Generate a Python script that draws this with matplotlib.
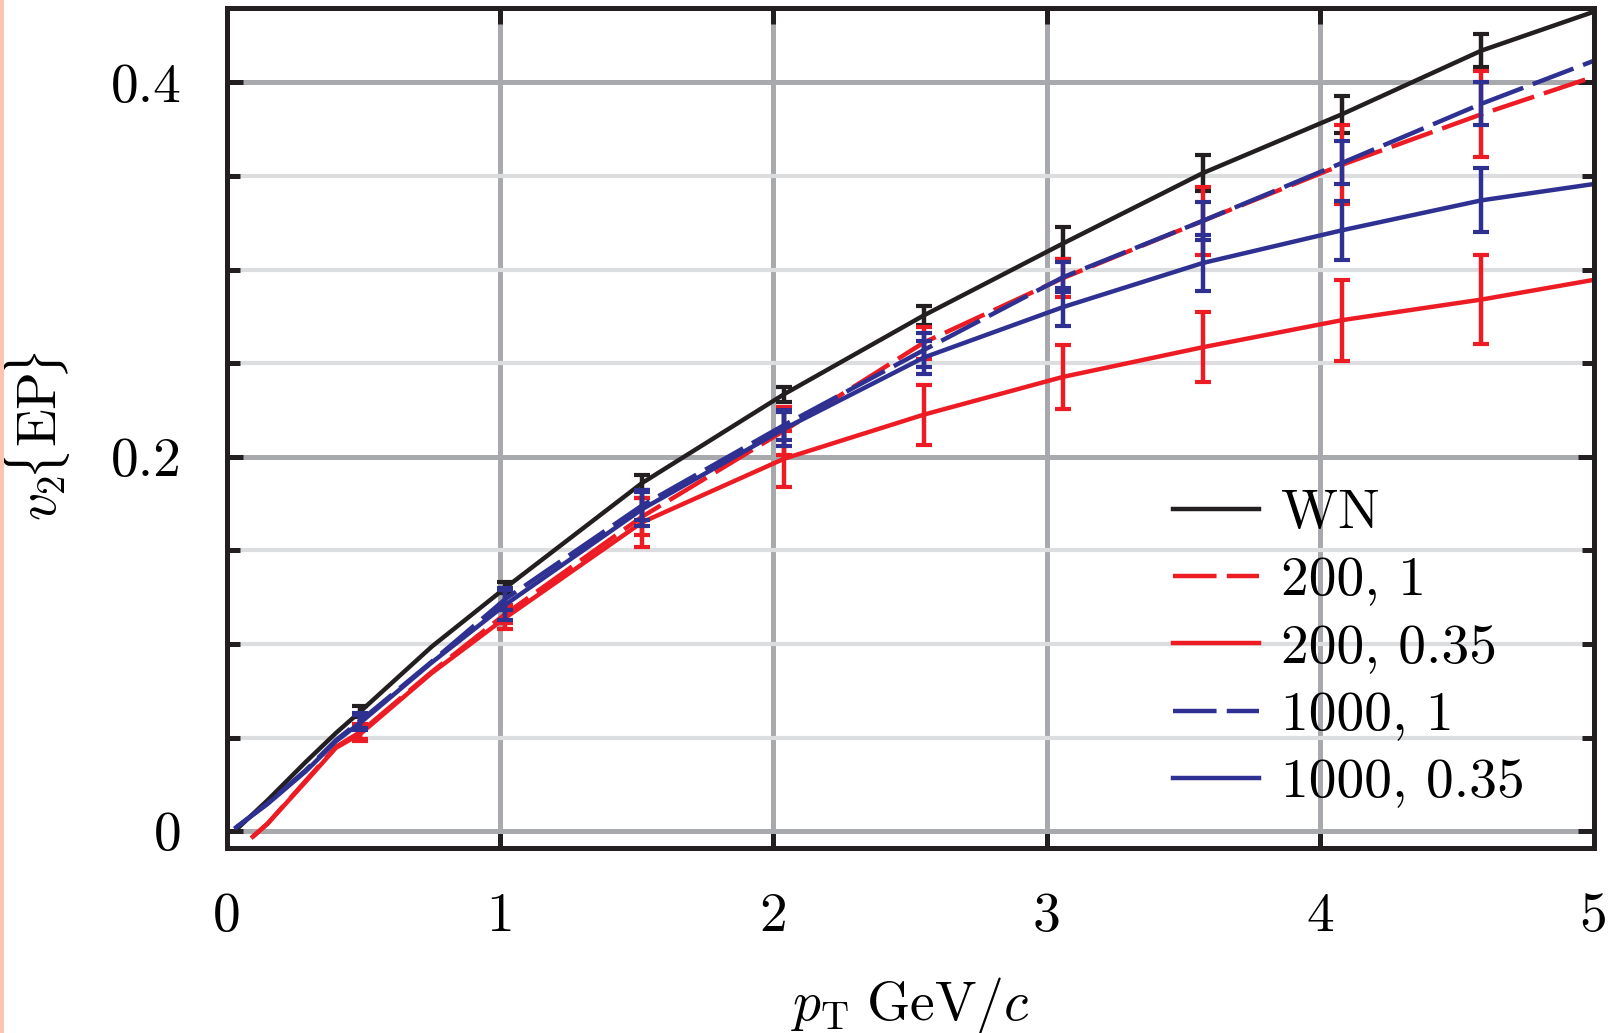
import numpy as np
import matplotlib.pyplot as plt
from matplotlib.ticker import MultipleLocator

plt.rcParams['font.family'] = 'serif'
plt.rcParams['font.serif'] = ['cmr10']
plt.rcParams['mathtext.fontset'] = 'cm'
plt.rcParams['axes.formatter.use_mathtext'] = True

# pT bins where the error bars sit
pt_bins = [0.49, 1.02, 1.52, 2.04, 2.55, 3.06, 3.57, 4.08, 4.59]

# WN
pt_wn = [0.03, 0.15, 0.29, 0.40, 0.49, 0.75, 1.02, 1.52, 2.04, 2.55, 3.06, 3.57, 4.08, 4.59, 5.0]
v2_wn = [0.0, 0.0165, 0.037, 0.0524, 0.064, 0.0985, 0.130, 0.186, 0.2335, 0.2755, 0.314, 0.3515, 0.383, 0.417, 0.4377]
bar_wn = [0.064, 0.130, 0.186, 0.2335, 0.2755, 0.314, 0.3515, 0.383, 0.417]
err_wn = [0.003, 0.003, 0.004, 0.004, 0.005, 0.0086, 0.0096, 0.0099, 0.009]

# 200, 1
pt_r1 = [0.096, 0.15, 0.29, 0.40, 0.49, 0.75, 1.02, 1.52, 2.04, 2.55, 3.06, 3.57, 4.08, 4.59, 5.0]
v2_r1 = [-0.003, 0.004, 0.027, 0.045, 0.053, 0.085, 0.116, 0.168, 0.214, 0.261, 0.2955, 0.326, 0.356, 0.383, 0.403]
bar_r1 = [0.053, 0.116, 0.168, 0.214, 0.261, 0.2955, 0.326, 0.356, 0.383]
err_r1 = [0.004, 0.005, 0.010, 0.0128, 0.0085, 0.010, 0.018, 0.021, 0.023]

# 200, 0.35
pt_r2 = [0.096, 0.15, 0.29, 0.40, 0.49, 0.75, 1.02, 1.52, 2.04, 2.55, 3.06, 3.57, 4.08, 4.59, 5.0]
v2_r2 = [-0.003, 0.004, 0.0265, 0.0445, 0.052, 0.0844, 0.114, 0.165, 0.199, 0.2225, 0.2427, 0.2585, 0.273, 0.284, 0.2945]
bar_r2 = [0.052, 0.114, 0.165, 0.199, 0.2225, 0.2427, 0.2585, 0.273, 0.284]
err_r2 = [0.004, 0.006, 0.013, 0.015, 0.016, 0.017, 0.0187, 0.0216, 0.024]

# 1000, 1
pt_b1 = [0.035, 0.15, 0.29, 0.40, 0.49, 0.75, 1.02, 1.52, 2.04, 2.55, 3.06, 3.57, 4.08, 4.59, 5.0]
v2_b1 = [0.002, 0.0148, 0.0326, 0.0486, 0.059, 0.0905, 0.124, 0.174, 0.217, 0.257, 0.296, 0.326, 0.357, 0.3886, 0.4115]
bar_b1 = [0.059, 0.124, 0.174, 0.217, 0.257, 0.296, 0.326, 0.357, 0.3886]
err_b1 = [0.004, 0.006, 0.008, 0.008, 0.009, 0.008, 0.0102, 0.0115, 0.0115]

# 1000, 0.35
pt_b2 = [0.035, 0.15, 0.29, 0.40, 0.49, 0.75, 1.02, 1.52, 2.04, 2.55, 3.06, 3.57, 4.08, 4.59, 5.0]
v2_b2 = [0.002, 0.0145, 0.032, 0.048, 0.058, 0.090, 0.121, 0.172, 0.215, 0.253, 0.280, 0.3035, 0.321, 0.337, 0.3457]
bar_b2 = [0.058, 0.121, 0.172, 0.215, 0.253, 0.280, 0.3035, 0.321, 0.337]
err_b2 = [0.004, 0.008, 0.009, 0.009, 0.009, 0.010, 0.015, 0.0157, 0.0171]

labels = ['WN', '200, 1', '200, 0.35', '1000, 1', '1000, 0.35']
x_ticks = [0, 1, 2, 3, 4, 5]
x_ticklabels = ['0', '1', '2', '3', '4', '5']
y_ticks = [0, 0.2, 0.4]
y_ticklabels = ['0', '0.2', '0.4']

black = '#231f20'
red = '#ed1c24'
blue = '#2e3192'
dashed = (0, (9.8, 2.3))

fig = plt.figure(figsize=(16.1, 10.33), dpi=100)
ax = fig.add_axes([0.1407, 0.1791, 0.8491, 0.8136])

series = [
    (pt_wn, v2_wn, bar_wn, err_wn, black, '-'),
    (pt_r1, v2_r1, bar_r1, err_r1, red, dashed),
    (pt_r2, v2_r2, bar_r2, err_r2, red, '-'),
    (pt_b1, v2_b1, bar_b1, err_b1, blue, dashed),
    (pt_b2, v2_b2, bar_b2, err_b2, blue, '-'),
]
for (pt, v2, bar, err, col, ls), lab in zip(series, labels):
    ax.plot(pt, v2, color=col, lw=3.2, ls=ls, label=lab)
    ax.errorbar(pt_bins, bar, yerr=err, fmt='none', ecolor=col,
                elinewidth=3.2, capsize=5.75, capthick=3.0)

ax.set_xlim(0, 5)
ax.set_ylim(-0.009, 0.44)
ax.set_xticks(x_ticks, x_ticklabels)
ax.set_yticks(y_ticks, y_ticklabels)
ax.yaxis.set_minor_locator(MultipleLocator(0.05))

ax.grid(which='major', color='#a7a9ac', lw=3.6)
ax.grid(which='minor', axis='y', color='#dcddde', lw=3.0)
ax.set_axisbelow(True)

for sp in ax.spines.values():
    sp.set_linewidth(3.6)
    sp.set_color(black)
ax.tick_params(which='both', direction='in', top=True, right=True,
               width=3.6, color=black, labelsize=40, pad=32)
ax.tick_params(which='major', length=11.5)
ax.tick_params(which='minor', length=9)

ax.set_ylabel(r'$v_2\!\{\mathrm{EP}\!\}$', fontsize=40)
ax.yaxis.set_label_coords(-0.113, 0.49)
ax.set_xlabel(r'$p_\mathrm{T}\;\mathrm{GeV}/c$', fontsize=40)
ax.xaxis.set_label_coords(0.5, -0.151)

ax.legend(loc='upper left', bbox_to_anchor=(0.6924, 0.427), frameon=False,
          fontsize=40, handlelength=1.55, handletextpad=0.4, labelspacing=0.315,
          borderpad=0, borderaxespad=0)

# thin pink strip at the left edge of the original scan
fig.add_artist(plt.Rectangle((0, 0), 4 / 1610, 1, transform=fig.transFigure,
                             color='#ffc4b0', lw=0))

fig.savefig('out.png', dpi=100)
